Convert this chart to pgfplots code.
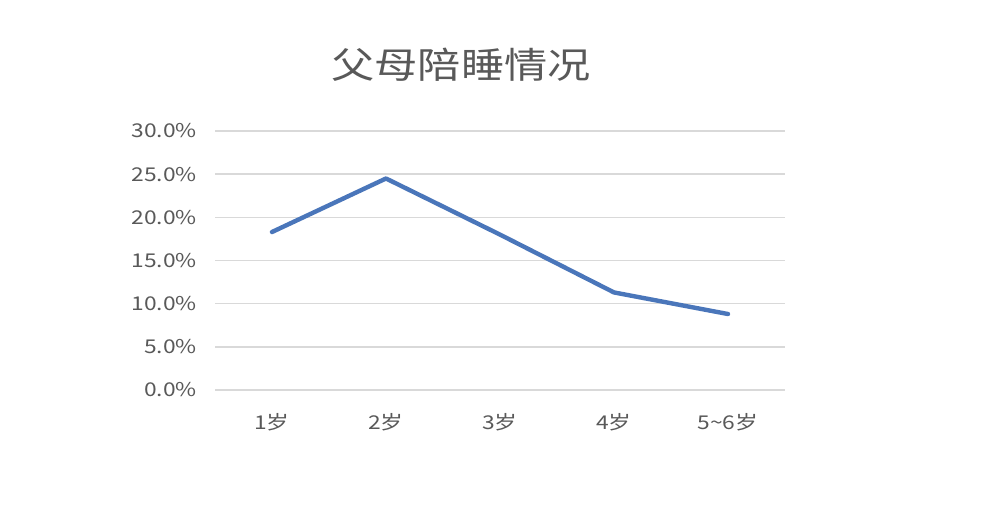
\documentclass[border=0pt]{standalone}
\usepackage{pgfplots}
\pgfplotsset{compat=1.18}
\usepackage{fontspec}
\setmainfont{Noto Sans CJK SC}
\usepackage{graphicx}
\definecolor{txt}{HTML}{595959}
\definecolor{gridc}{HTML}{D9D9D9}
\definecolor{linec}{HTML}{4A76BA}
% the reference is stretched sideways a little
\newcommand\sx[1]{\scalebox{1.2}[1]{#1}}
\begin{document}
\begin{tikzpicture}
\path[use as bounding box, fill=white] (0pt,0pt) rectangle (500pt,264.5pt);
\node[text=txt, font=\fontsize{18}{20}\selectfont] at (230.5pt,232pt) {\sx{父母陪睡情况}};
\begin{axis}[
  at={(107.5pt,69.5pt)}, anchor=south west,
  scale only axis,
  width=285pt, height=129.5pt,
  xmin=-0.5, xmax=4.5,
  ymin=0, ymax=30,
  xtick={0,1,2,3,4},
  xticklabels={\sx{1岁},\sx{2岁},\sx{3岁},\sx{4岁},\sx{5\textasciitilde6岁}},
  ytick={0,5,10,15,20,25,30},
  yticklabels={\sx{0.0\%},\sx{5.0\%},\sx{10.0\%},\sx{15.0\%},\sx{20.0\%},\sx{25.0\%},\sx{30.0\%}},
  tick label style={text=txt, font=\fontsize{9.5}{11}\selectfont},
  yticklabel style={xshift=-5.5pt},
  xticklabel style={yshift=-8pt},
  major tick length=0pt,
  axis line style={draw=none},
  ymajorgrids,
  grid style={gridc, line width=0.75pt},
  clip=false,
]
\addplot[linec, line width=2.2pt, line join=round, line cap=round] coordinates {
  (0,18.3) (1,24.5) (2,18.0) (3,11.3) (4,8.8)
};
\end{axis}
\end{tikzpicture}
\end{document}
